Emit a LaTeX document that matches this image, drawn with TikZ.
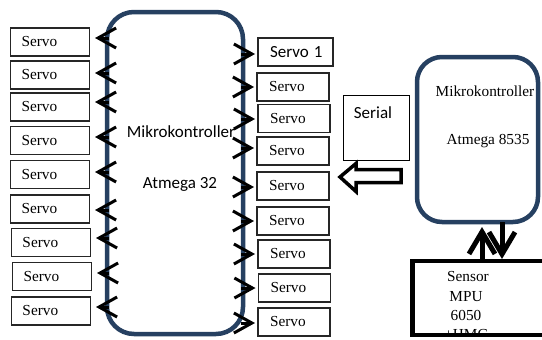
\documentclass[tikz,border=0pt]{standalone}
\usepackage{fontspec}
\setmainfont{Liberation Serif}
\newfontfamily\calfont{Carlito}
\usetikzlibrary{arrows.meta,calc}
\definecolor{navy}{RGB}{38,64,97}
\begin{document}
\begin{tikzpicture}[x=1pt,y=-1pt,
  serif/.style={font=\fontsize{15.3}{18}\selectfont},
  sans/.style={font=\calfont\fontsize{17}{20}\selectfont},
  servoL/.style={draw=black!85, line width=1.2pt, text width=57pt, inner xsep=11pt, inner ysep=0pt,
     minimum height=28pt, align=left, serif, outer sep=0pt},
  servoR/.style={servoL, text width=48pt, inner xsep=12pt},
  mcu/.style={draw=navy, line width=4.5pt, rounded corners=27pt, inner sep=0pt, outer sep=0pt},
  larr/.style={line width=3pt, -{Straight Barb[length=18pt,width=20pt]}},
  barb/.style={line width=5pt, -{Straight Barb[length=22pt,width=26pt]}},
  plainbox/.style={draw=black, line width=1pt, inner sep=0pt, outer sep=0pt},
  sensbox/.style={draw=black, line width=4.5pt, inner sep=0pt, outer sep=0pt}
]
\useasboundingbox (0,0) rectangle (542,340);

% main controller
\node[mcu, minimum width=136pt, minimum height=322pt] (m) at (175,173) {};
\node[sans, anchor=base] (mt1) at (181,137) {Mikrokontroller};
\node[sans, anchor=base] (mt2) at (180,188) {Atmega 32};

% left servos
\foreach \i/\x/\y in {1/50/42, 2/50/75, 3/50/107, 4/50/140.5, 5/50/174.5, 6/50/209, 7/51/242.5, 8/52/276.5, 9/51/311}
  \node[servoL] (sL\i) at (\x,\y) {Servo};

% right servos
\node[servoR, text width=51pt] (sR1) at (295.5,52) {\calfont\fontsize{17}{20}\selectfont\mbox{Servo 1}};
\foreach \i/\x/\y in {2/293/87, 3/294/118.5, 4/293/151, 5/293/186, 6/293/221, 7/294/254, 8/294.5/288, 9/294/322}
  \node[servoR] (sR\i) at (\x,\y) {Servo};

% left arrows
\foreach \i/\d in {1/4, 2/2, 3/5, 4/3.5, 5/2.5, 6/-1, 7/4.5, 8/3.5, 9/4} {
  \coordinate (la\i) at ($(sL\i.east)+(0,-\d)$);
  \draw[larr] ($(m.west |- la\i)+(2,0)$) -- ($(la\i)+(5.5,0)$);
}
% right arrows
\foreach \i/\d in {1/-2, 2/0, 3/-0.5, 4/3, 5/-1, 6/0, 7/0, 8/0, 9/-1} {
  \coordinate (ra\i) at ($(sR\i.west)+(0,-\d)$);
  \draw[larr] ($(m.east |- ra\i)+(-2,0)$) -- ($(ra\i)+(-3,0)$);
}

% second controller
\node[mcu, rounded corners=25pt, minimum width=121pt, minimum height=165pt] (c) at (477.5,139.5) {};
\node[serif, anchor=base] (ct1) at (485,96) {Mikrokontroller};
\node[serif, anchor=base] (ct2) at (488,144) {Atmega 8535};

% serial
\node[plainbox, minimum width=66pt, minimum height=65pt] (ser) at (376,127.5) {};
\node[sans] (sert) at (373,113) {Serial};

% hollow block arrow
\draw[line width=3.5pt, fill=white, line join=miter]
  (340,177) -- (356,163.5) -- (356,169.5) -- (401,169.5) -- (401,182.5) -- (356,182.5) -- (356,191.5) -- cycle;

% sensor
\node[sensbox, minimum width=187pt, minimum height=74pt] (sen) at (506,298) {};
\node[serif, anchor=base] (st1) at (468,281) {Sensor};
\node[serif, anchor=base] (st2) at (466,301) {MPU};
\node[serif, anchor=base] (st3) at (466,320) {6050};
\begin{scope}
  \clip (415,262) rectangle (600,332.8);
  \node[serif, anchor=base] (st4) at (466,339) {+HMC};
\end{scope}

% arrows between controller and sensor
\coordinate (ux) at (482,0);
\coordinate (dx) at (502,0);
\draw[barb, shorten >=5pt] (sen.north -| ux) -- (c.south -| ux);
\draw[barb, shorten >=2pt] (c.south -| dx) -- (sen.north -| dx);
\end{tikzpicture}
\end{document}
